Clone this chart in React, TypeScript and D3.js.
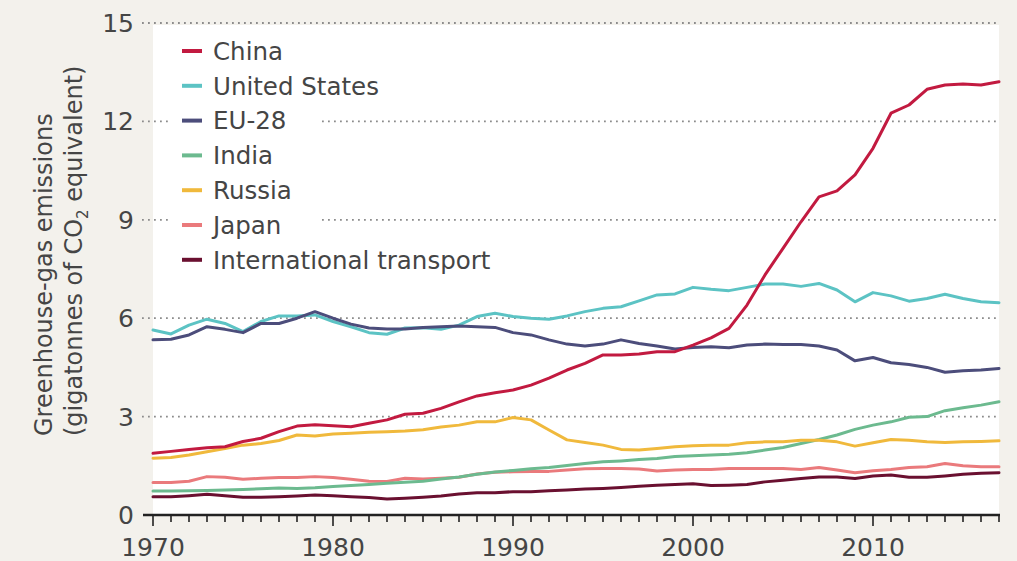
import * as d3 from "d3";

const years = d3.range(1970, 2018);

const china = [
  1.88, 1.94, 2.0, 2.05, 2.08, 2.24, 2.34, 2.54, 2.71, 2.75,
  2.72, 2.69, 2.8, 2.9, 3.07, 3.1, 3.25, 3.45, 3.63, 3.73,
  3.81, 3.96, 4.17, 4.42, 4.62, 4.88, 4.88, 4.91, 4.98, 4.98,
  5.18, 5.4, 5.69, 6.4, 7.32, 8.13, 8.94, 9.7, 9.88, 10.37,
  11.18, 12.25, 12.5, 12.98, 13.11, 13.14, 13.11, 13.21,
];
const us = [
  5.64, 5.52, 5.79, 5.97, 5.84, 5.59, 5.9, 6.07, 6.07, 6.1,
  5.9, 5.74, 5.56, 5.51, 5.7, 5.71, 5.66, 5.79, 6.05, 6.15,
  6.05, 6.0, 5.97, 6.07, 6.2, 6.3, 6.35, 6.53, 6.71, 6.74,
  6.94, 6.88, 6.84, 6.94, 7.04, 7.04, 6.97, 7.06, 6.86, 6.5,
  6.78, 6.68, 6.52, 6.6, 6.73, 6.6, 6.5, 6.47,
];
const eu28 = [
  5.34, 5.36, 5.49, 5.74, 5.66, 5.56, 5.84, 5.84, 6.0, 6.2,
  6.0, 5.82, 5.7, 5.67, 5.67, 5.72, 5.74, 5.76, 5.74, 5.72,
  5.56, 5.49, 5.34, 5.21, 5.15, 5.21, 5.34, 5.23, 5.15, 5.06,
  5.11, 5.13, 5.1, 5.18, 5.21, 5.2, 5.2, 5.15, 5.03, 4.7,
  4.8, 4.64, 4.59, 4.5, 4.35, 4.4, 4.42, 4.47,
];
const india = [
  0.73, 0.73, 0.74, 0.75, 0.76, 0.78, 0.8, 0.82, 0.81, 0.83,
  0.87, 0.9, 0.93, 0.97, 1.0, 1.03, 1.1, 1.16, 1.24, 1.31,
  1.36, 1.41, 1.45, 1.51, 1.57, 1.62, 1.65, 1.69, 1.72, 1.78,
  1.81, 1.83, 1.85, 1.9, 1.98, 2.06, 2.18, 2.3, 2.44, 2.61,
  2.74, 2.84, 2.98, 3.0, 3.18, 3.27, 3.35, 3.45,
];
const russia = [
  1.73, 1.75, 1.83, 1.93, 2.03, 2.13, 2.18, 2.27, 2.44, 2.41,
  2.47, 2.49, 2.52, 2.54, 2.56, 2.6, 2.68, 2.74, 2.84, 2.84,
  2.97, 2.9, 2.59, 2.29, 2.21, 2.13, 2.0, 1.98, 2.03, 2.08,
  2.11, 2.13, 2.13, 2.2, 2.23, 2.23, 2.28, 2.28, 2.23, 2.1,
  2.2, 2.3, 2.28, 2.23, 2.21, 2.23, 2.24, 2.26,
];
const japan = [
  0.99, 0.99, 1.03, 1.17, 1.15, 1.09, 1.12, 1.14, 1.14, 1.17,
  1.14, 1.09, 1.03, 1.02, 1.12, 1.1, 1.12, 1.15, 1.25, 1.3,
  1.32, 1.33, 1.33, 1.37, 1.41, 1.42, 1.42, 1.4, 1.34, 1.37,
  1.39, 1.39, 1.42, 1.42, 1.42, 1.42, 1.39, 1.45, 1.37, 1.29,
  1.35, 1.39, 1.45, 1.47, 1.57, 1.5, 1.47, 1.47,
];
const transport = [
  0.56, 0.56, 0.59, 0.63, 0.59, 0.54, 0.54, 0.56, 0.58, 0.61,
  0.59, 0.56, 0.53, 0.49, 0.51, 0.54, 0.58, 0.64, 0.68, 0.68,
  0.71, 0.71, 0.74, 0.76, 0.79, 0.81, 0.84, 0.88, 0.91, 0.93,
  0.95, 0.9, 0.91, 0.93, 1.01, 1.06, 1.11, 1.16, 1.16, 1.11,
  1.19, 1.22, 1.15, 1.15, 1.19, 1.24, 1.27, 1.29,
];

const legendNames = ["China", "United States", "EU-28", "India", "Russia", "Japan", "International transport"];
const colors = ["#c21a40", "#5cc3c4", "#4c4d7b", "#6cba8f", "#f0b93c", "#ea7a7c", "#6a1030"];
const seriesValues = [china, us, eu28, india, russia, japan, transport];
// drawing order: bottom first, China on top
const drawOrder = [6, 5, 3, 4, 1, 2, 0];

const yTicks = [0, 3, 6, 9, 12, 15];
const xLabels = [1970, 1980, 1990, 2000, 2010];

const FONT = "'DejaVu Sans', Verdana, sans-serif";
const TEXT = "#454545";

export default function App() {
  const W = 1017;
  const H = 561;
  const x = d3.scaleLinear().domain([1970, 2017]).range([153, 999]);
  const y = d3.scaleLinear().domain([0, 15]).range([515, 23]);

  const line = d3
    .line<number>()
    .x((_, i) => x(years[i]))
    .y((d) => y(d));

  return (
    <svg
      width={W}
      height={H}
      style={{ position: "absolute", left: 0, top: 0, fontFamily: FONT }}
    >
      <rect x={0} y={0} width={W} height={H} fill="#f3f1ec" />
      <rect x={x(1970)} y={y(15) + 2} width={x(2017) - x(1970)} height={y(0) - y(15) - 2} fill="#ffffff" />

      {/* gridlines */}
      {yTicks.slice(1).map((t) => (
        <line
          key={t}
          x1={142}
          x2={1000}
          y1={y(t)}
          y2={y(t)}
          stroke="#8c8c8c"
          strokeWidth={1.8}
          strokeDasharray="1.8 4.2"
        />
      ))}

      {/* legend backing */}
      <rect x={168} y={35} width={154} height={240} fill="#ffffff" />

      {/* y tick labels */}
      {yTicks.map((t) => (
        <text key={t} x={134} y={y(t)} dy="0.36em" textAnchor="end" fontSize={25} fill={TEXT}>
          {t}
        </text>
      ))}

      {/* y title */}
      <g transform="translate(52,436) rotate(-90)">
        <text x={0} y={0} fontSize={24} fill={TEXT}>
          Greenhouse-gas emissions
        </text>
        <text x={0} y={30} fontSize={24} fill={TEXT}>
          (gigatonnes of CO
          <tspan fontSize={15} dy={6}>2</tspan>
          <tspan dy={-6}> equivalent)</tspan>
        </text>
      </g>

      {/* series */}
      {drawOrder.map((k) => (
        <path
          key={legendNames[k]}
          d={line(seriesValues[k]) ?? ""}
          fill="none"
          stroke={colors[k]}
          strokeWidth={3}
          strokeLinejoin="round"
          strokeLinecap="round"
        />
      ))}

      {/* x axis */}
      <line x1={143} x2={1000} y1={y(0)} y2={y(0)} stroke="#222" strokeWidth={2.6} />
      {years.map((yr) => (
        <line
          key={yr}
          x1={x(yr)}
          x2={x(yr)}
          y1={y(0)}
          y2={y(0) + (yr % 10 === 0 ? 11 : 7)}
          stroke="#222"
          strokeWidth={1.6}
        />
      ))}
      {xLabels.map((yr) => (
        <text key={yr} x={x(yr)} y={556} textAnchor="middle" fontSize={25} fill={TEXT}>
          {yr}
        </text>
      ))}

      {/* legend */}
      {legendNames.map((name, i) => {
        const cy = 51 + i * 34.8;
        return (
          <g key={name}>
            <line x1={182} x2={202} y1={cy} y2={cy} stroke={colors[i]} strokeWidth={4} />
            <text x={213} y={cy} dy="0.36em" fontSize={24.5} fill={TEXT}>
              {name}
            </text>
          </g>
        );
      })}
    </svg>
  );
}
